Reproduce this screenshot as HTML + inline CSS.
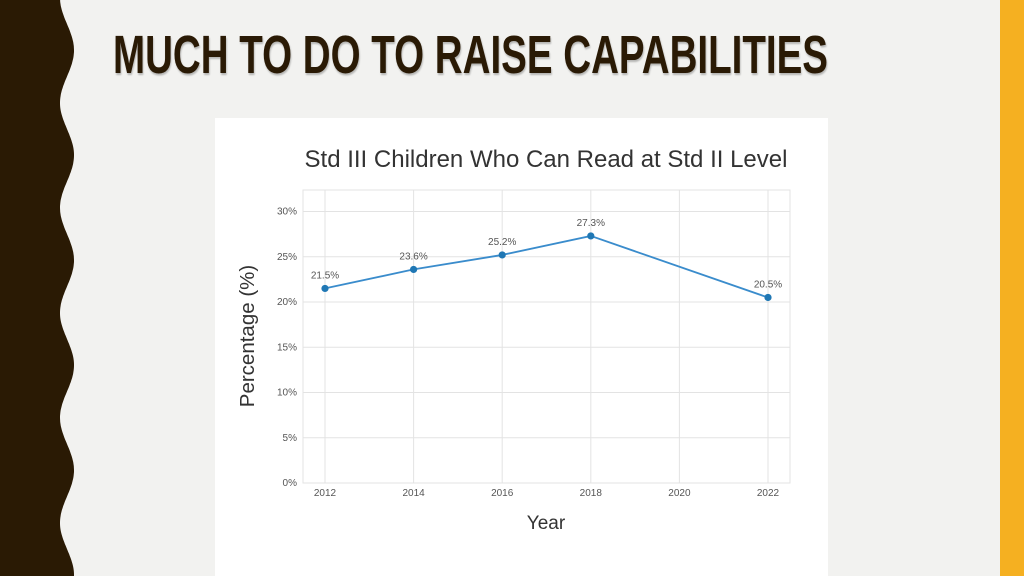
<!DOCTYPE html>
<html><head><meta charset="utf-8"><style>
body{margin:0;width:1024px;height:576px;overflow:hidden;background:#f2f2f0;position:relative;font-family:"Liberation Sans",sans-serif}
#bar{position:absolute;left:1000px;top:0;width:24px;height:576px;background:#f5b021}
#title{position:absolute;left:113px;top:24px;font-size:54px;font-weight:bold;color:#2a1a05;white-space:nowrap;transform-origin:0 0;letter-spacing:0px;text-shadow:1px 2px 2px rgba(0,0,0,0.25)}
#card{position:absolute;left:215px;top:118px;width:613px;height:458px;background:#fff}
</style></head><body>
<svg width="80" height="576" style="position:absolute;left:0;top:0">
<path id="wave" fill="#2a1a04" d=""/>
</svg>
<div id="bar"></div>
<div id="title">MUCH TO DO TO RAISE CAPABILITIES</div>
<div id="card"></div>
<svg id="chart" width="1024" height="576" style="position:absolute;left:0;top:0"></svg>
<script>
(function(){
  let d="M0,0 L60,0";
  for(let y=0;y<=576;y+=2){const x=67+7*Math.sin((y-24)/105*2*Math.PI);d+=" L"+x.toFixed(1)+","+y;}
  d+=" L0,576 Z";
  document.getElementById('wave').setAttribute('d',d);
  const t=document.getElementById('title');
  const w=t.getBoundingClientRect().width;
  t.style.transform="scaleX("+(715/w)+")";
})();
const years=[2012,2014,2016,2018,2022];
const values=[21.5,23.6,25.2,27.3,20.5];
const xTicks=[2012,2014,2016,2018,2020,2022];
const yTicks=[0,5,10,15,20,25,30];
const NS="http://www.w3.org/2000/svg";
const svg=document.getElementById('chart');
const X=v=>325+(v-2012)*44.3;
const Y=v=>483-v*9.05;
function el(tag,attrs,txt){const e=document.createElementNS(NS,tag);for(const k in attrs)e.setAttribute(k,attrs[k]);if(txt!==undefined)e.textContent=txt;svg.appendChild(e);return e;}
el('rect',{x:303,y:190,width:487,height:293,fill:'none',stroke:'#e3e3e3','stroke-width':1});
yTicks.forEach(v=>{
  const g=el('line',{x1:303,x2:790,y1:Y(v),y2:Y(v),stroke:'#e3e3e3','stroke-width':1});
  
  const t=el('text',{x:297,y:Y(v)+3,'text-anchor':'end','font-size':10,fill:'#555'},v+'%');
  
});
xTicks.forEach(v=>{
  const g=el('line',{x1:X(v),x2:X(v),y1:190,y2:483,stroke:'#e3e3e3','stroke-width':1});
  
  const t=el('text',{x:X(v),y:496,'text-anchor':'middle','font-size':10,fill:'#555'},String(v));
  
});
const line=el('polyline',{points:years.map((y,i)=>X(y)+','+Y(values[i])).join(' '),fill:'none',stroke:'#3a8ccc','stroke-width':1.8});

years.forEach((y,i)=>{
  const c=el('circle',{cx:X(y),cy:Y(values[i]),r:3.6,fill:'#1f77b4'});
  
  const t=el('text',{x:X(y),y:Y(values[i])-10,'text-anchor':'middle','font-size':10,fill:'#555'},values[i].toFixed(1)+'%');
  
});
const ct=el('text',{x:546,y:167,'text-anchor':'middle','font-size':24,fill:'#333'},'Std III Children Who Can Read at Std II Level');

const xt=el('text',{x:546,y:529,'text-anchor':'middle','font-size':19,fill:'#333'},'Year');

const yt=el('text',{x:0,y:0,'text-anchor':'middle','font-size':20.5,fill:'#333',transform:'translate(254,336) rotate(-90)'},'Percentage (%)');

</script>
</body></html>
